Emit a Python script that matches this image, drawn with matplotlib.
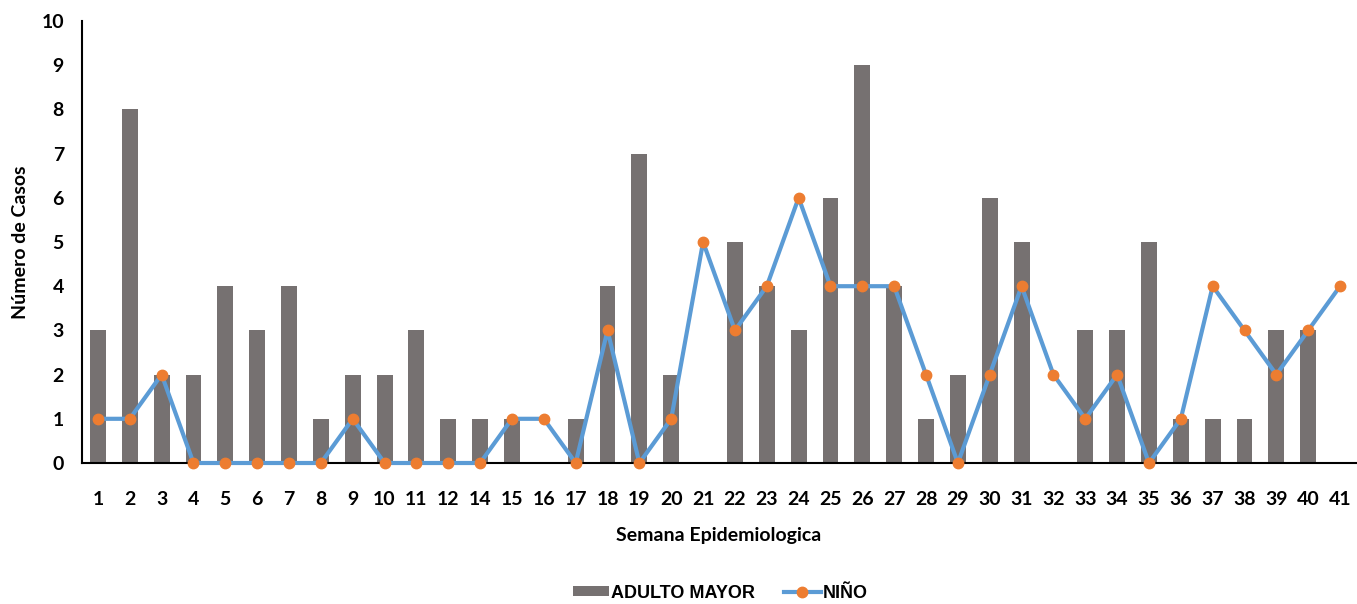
import matplotlib
matplotlib.use("Agg")
import matplotlib.pyplot as plt
import numpy as np

semanas = ["1","2","3","4","5","6","7","8","9","10","11","12","14","15","16","17","18","19","20",
           "21","22","23","24","25","26","27","28","29","30","31","32","33","34","35","36","37","38","39","40","41"]
adulto_mayor = [3,8,2,2,4,3,4,1,2,2,3,1,1,1,0,1,4,7,2,0,5,4,3,6,9,4,1,2,6,5,0,3,3,5,1,1,1,3,3,0]
nino = [1,1,2,0,0,0,0,0,1,0,0,0,0,1,1,0,3,0,1,5,3,4,6,4,4,4,2,0,2,4,2,1,2,0,1,4,3,2,3,4]

plt.rcParams['font.family'] = ['Lato', 'DejaVu Sans']

fig = plt.figure(figsize=(13.57, 6.04), dpi=100)
ax = fig.add_axes([82/1357, 1 - 463/604, (1356-82)/1357, (463-21)/604])

x = np.arange(len(semanas))
bars = ax.bar(x, adulto_mayor, width=0.5, color='#767171', label='ADULTO MAYOR', zorder=2)
line, = ax.plot(x, nino, color='#5B9BD5', linewidth=3, marker='o', markersize=7.5,
                markerfacecolor='#ED7D31', markeredgecolor='#ED7D31', label='NIÑO',
                zorder=4, clip_on=False)

ax.set_xlim(-0.5, len(semanas) - 0.5)
ax.set_ylim(0, 10)
ax.set_yticks(range(0, 11))
ax.set_xticks(x)
ax.set_xticklabels(semanas)
ax.tick_params(axis='both', length=0, labelsize=14)
ax.tick_params(axis='x', pad=20)
ax.tick_params(axis='y', pad=13)
for lbl in ax.get_xticklabels() + ax.get_yticklabels():
    lbl.set_fontweight('bold')
    lbl.set_color('#000000')

for s in ['top', 'right']:
    ax.spines[s].set_visible(False)
ax.spines['left'].set_linewidth(1.5)
ax.spines['bottom'].set_linewidth(1.5)
ax.spines['bottom'].set_zorder(3)

ax.set_xlabel('Semana Epidemiologica', fontsize=14, fontweight='bold', labelpad=14)
ax.set_ylabel('Número de Casos', fontsize=14, fontweight='bold', labelpad=9)

leg = fig.legend(handles=[bars, line], loc='center', bbox_to_anchor=(720/1357, 1 - 593/604),
                 ncol=2, frameon=False,
                 prop={'family': 'Liberation Sans', 'weight': 'bold', 'size': 13},
                 handlelength=2.0, handleheight=0.5, columnspacing=1.65, handletextpad=0.1)

fig.savefig('out.png', dpi=100)
